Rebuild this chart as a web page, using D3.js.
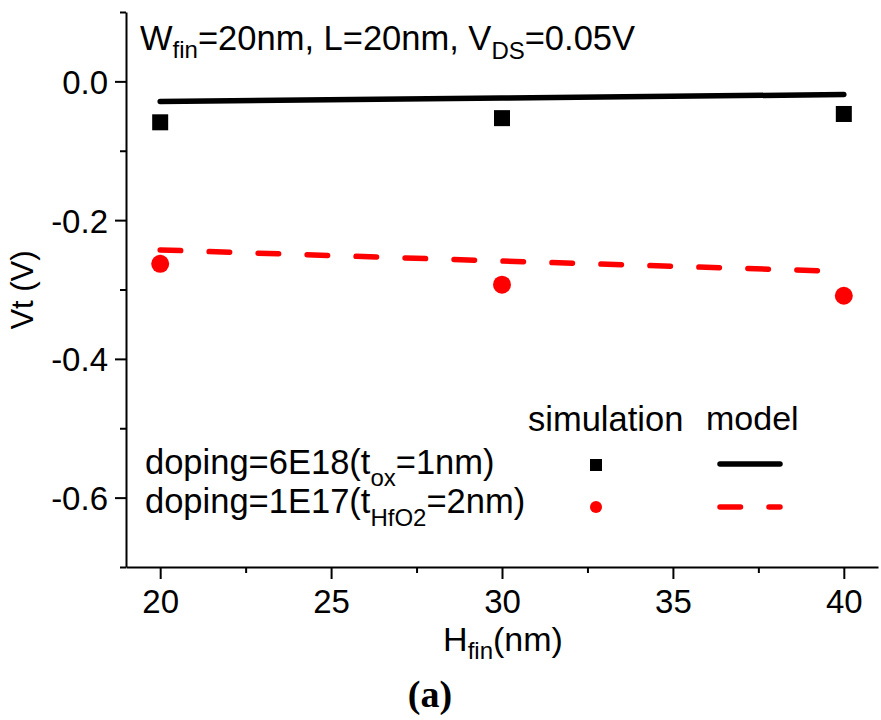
<!DOCTYPE html>
<html>
<head>
<meta charset="utf-8">
<script src="https://cdn.jsdelivr.net/npm/d3@7"></script>
<style>
  html, body { margin: 0; padding: 0; background: #fff; }
  svg { display: block; }
  text { font-family: "Liberation Sans", Arial, sans-serif; fill: #000; }
</style>
</head>
<body>
<svg id="chart" width="881" height="720"></svg>
<script>
// Fin height sweep (nm)
const hfin = [20, 30, 40];

// Threshold voltage Vt (V): simulation points and model curves
const simOx   = [-0.059, -0.053, -0.047];
const modelOx = [-0.029, -0.024, -0.019];
const simHf   = [-0.263, -0.293, -0.309];
const modelHf = [-0.243, -0.259, -0.274];

// Axis ticks
const xMajor = [20, 25, 30, 35, 40];
const xMinor = [22.5, 27.5, 32.5, 37.5];
const yMajor = [0.0, -0.2, -0.4, -0.6];
const yMinor = [0.1, -0.1, -0.3, -0.5, -0.7];

const seriesLabels = ["doping=6E18(t", "doping=1E17(t"];

const svg = d3.select("#chart");
const m = { left: 126, right: 878, top: 12, bottom: 567 };

const x = d3.scaleLinear().domain([19, 41]).range([m.left, m.right]);
const y = d3.scaleLinear().domain([-0.7, 0.1]).range([m.bottom, m.top]);

// ---- axes ----
const gx = svg.append("g").attr("transform", `translate(0,${m.bottom})`);
gx.call(d3.axisBottom(x).tickValues(xMajor).tickSize(12).tickSizeOuter(0).tickFormat(d3.format("d")));
gx.selectAll(".tick text").style("font-size", "33px").attr("dy", null).attr("y", 46);
gx.append("g").call(d3.axisBottom(x).tickValues(xMinor).tickSize(6).tickSizeOuter(0).tickFormat(""))
  .select(".domain").remove();

const gy = svg.append("g").attr("transform", `translate(${m.left},0)`);
gy.call(d3.axisLeft(y).tickValues(yMajor).tickSize(11).tickSizeOuter(0).tickFormat(d3.format(".1f")));
gy.selectAll(".tick text").style("font-size", "33px").attr("dy", "0.36em").attr("x", -18)
  .text(d => d3.format(".1f")(d).replace("−", "-"));
gy.append("g").call(d3.axisLeft(y).tickValues(yMinor).tickSize(6).tickSizeOuter(0).tickFormat(""))
  .select(".domain").remove();

svg.selectAll(".domain, .tick line").attr("stroke", "#000").attr("stroke-width", 2);
svg.selectAll(".tick text").style("font-family", "'Liberation Sans', Arial, sans-serif");

// axis titles
const xt = svg.append("text").attr("x", 503).attr("y", 651).attr("text-anchor", "middle").style("font-size", "34px");
xt.append("tspan").text("H");
xt.append("tspan").style("font-size", "24px").attr("dy", 8).text("fin");
xt.append("tspan").attr("dy", -8).text("(nm)");

svg.append("text").attr("transform", "translate(33,290) rotate(-90)")
  .attr("text-anchor", "middle").style("font-size", "31px").text("Vt (V)");

// header annotation
const tt = svg.append("text").attr("x", 140).attr("y", 50).style("font-size", "34.5px");
tt.append("tspan").text("W");
tt.append("tspan").style("font-size", "24px").attr("dy", 8).text("fin");
tt.append("tspan").attr("dy", -8).text("=20nm, L=20nm, V");
tt.append("tspan").style("font-size", "24px").attr("dy", 9).text("DS");
tt.append("tspan").attr("dy", -9).text("=0.05V");

// ---- data ----
const line = d3.line().x((d, i) => x(hfin[i])).y(d => y(d));

svg.append("path").datum(modelOx).attr("d", line)
  .attr("fill", "none").attr("stroke", "#000").attr("stroke-width", 5.5).attr("stroke-linecap", "round");
svg.append("path").datum(modelHf).attr("d", line)
  .attr("fill", "none").attr("stroke", "#ff0000").attr("stroke-width", 5.5)
  .attr("stroke-linecap", "round").attr("stroke-dasharray", "20.5,28.5");

const sq = 16;
svg.selectAll(".sq").data(simOx).enter().append("rect")
  .attr("x", (d, i) => x(hfin[i]) - sq / 2).attr("y", d => y(d) - sq / 2)
  .attr("width", sq).attr("height", sq).attr("fill", "#000");
svg.selectAll(".dot").data(simHf).enter().append("circle")
  .attr("cx", (d, i) => x(hfin[i])).attr("cy", d => y(d)).attr("r", 9).attr("fill", "#ff0000");

// ---- legend ----
svg.append("text").attr("x", 528).attr("y", 431).style("font-size", "34.5px").text("simulation");
svg.append("text").attr("x", 706).attr("y", 430).style("font-size", "34px").text("model");

const l1 = svg.append("text").attr("x", 145).attr("y", 474).style("font-size", "34.5px");
l1.append("tspan").text(seriesLabels[0]);
l1.append("tspan").style("font-size", "24px").attr("dy", 12).text("ox");
l1.append("tspan").attr("dy", -12).text("=1nm)");

const l2 = svg.append("text").attr("x", 145).attr("y", 513).style("font-size", "34.5px");
l2.append("tspan").text(seriesLabels[1]);
l2.append("tspan").style("font-size", "24px").attr("dy", 13).text("HfO2");
l2.append("tspan").attr("dy", -13).text("=2nm)");

svg.append("rect").attr("x", 590).attr("y", 459).attr("width", 12).attr("height", 12).attr("fill", "#000");
svg.append("circle").attr("cx", 596).attr("cy", 507).attr("r", 6).attr("fill", "#ff0000");
svg.append("line").attr("x1", 720).attr("x2", 780).attr("y1", 464).attr("y2", 464)
  .attr("stroke", "#000").attr("stroke-width", 5.5).attr("stroke-linecap", "round");
svg.append("line").attr("x1", 720).attr("x2", 780).attr("y1", 507).attr("y2", 507)
  .attr("stroke", "#ff0000").attr("stroke-width", 5.5).attr("stroke-linecap", "round")
  .attr("stroke-dasharray", "20.5,28.5");

// panel tag
svg.append("text").attr("x", 430).attr("y", 707).attr("text-anchor", "middle")
  .style("font-size", "38px").style("font-weight", "bold")
  .style("font-family", "'Liberation Serif', 'Times New Roman', serif").text("(a)");
</script>
</body>
</html>
